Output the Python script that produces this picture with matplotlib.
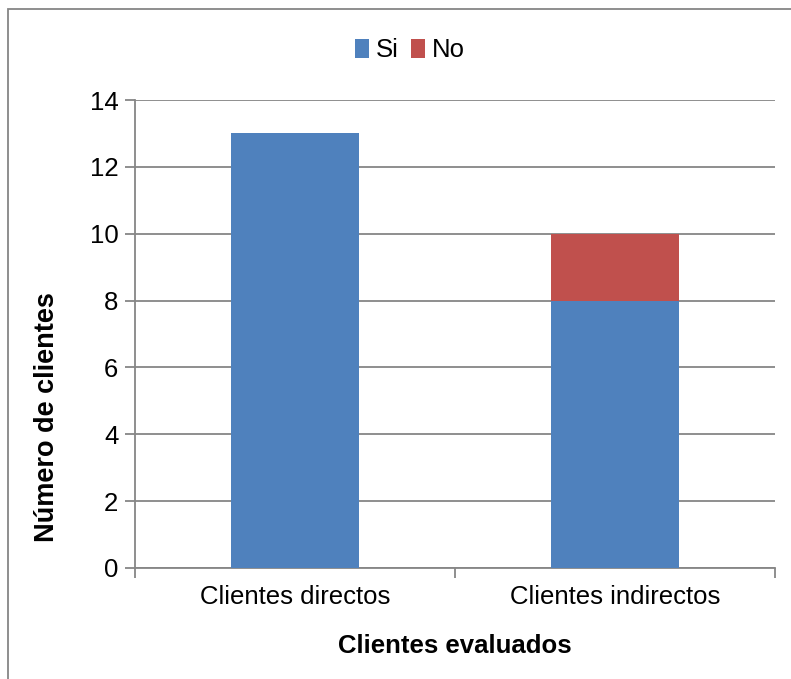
import matplotlib
matplotlib.use('Agg')
from matplotlib import pyplot as plt
from matplotlib.patches import Rectangle

plt.rcParams['font.family'] = ['Liberation Sans', 'DejaVu Sans']

categorias = ['Clientes directos', 'Clientes indirectos']
si = [13, 8]
no = [0, 2]

azul = '#4F81BD'
rojo = '#C0504D'
gris = '#868686'
fs = 18.5

fig = plt.figure(figsize=(7.91, 6.79), dpi=100)
ax = fig.add_axes([0.1707, 0.1635, 0.8091, 0.6892])

x = list(range(len(categorias)))
ax.bar(x, si, width=0.4, color=azul, label='Si', zorder=3)
ax.bar(x, no, width=0.4, bottom=si, color=rojo, label='No', zorder=3)

ax.set_xlim(-0.5, 1.5)
ax.set_ylim(0, 14)
ax.set_yticks(range(0, 15, 2))
ax.set_xticks(x)
ax.set_xticklabels(categorias)
ax.set_xticks([-0.5, 0.5, 1.5], minor=True)
ax.tick_params(axis='x', which='major', length=0, pad=12, labelsize=fs)
ax.tick_params(axis='x', which='minor', length=7, width=1.3, color=gris)
ax.tick_params(axis='y', length=7, width=1.3, color=gris, labelsize=fs, pad=5)

ax.yaxis.grid(True, color=gris, linewidth=1.3, zorder=0)
for s in ['top', 'right']:
    ax.spines[s].set_visible(False)
for s in ['left', 'bottom']:
    ax.spines[s].set_color(gris)
    ax.spines[s].set_linewidth(1.3)

ax.set_xlabel('Clientes evaluados', fontsize=fs, fontweight='bold', labelpad=18)
ax.set_ylabel('Número de clientes', fontsize=19.5, fontweight='bold')
ax.yaxis.set_label_coords(-0.117, 0.323)

fig.legend(loc='upper center', bbox_to_anchor=(0.518, 0.978), ncol=2, frameon=False,
           fontsize=fs, handlelength=0.55, handleheight=0.75, handletextpad=0.25,
           columnspacing=0.5)

# marco del gráfico
fig.patches.append(Rectangle((8 / 791, -0.1), 1.2, 1.1 - 9 / 679, transform=fig.transFigure,
                             fill=False, edgecolor=gris, linewidth=1.3))

fig.savefig('out.png', dpi=100)
